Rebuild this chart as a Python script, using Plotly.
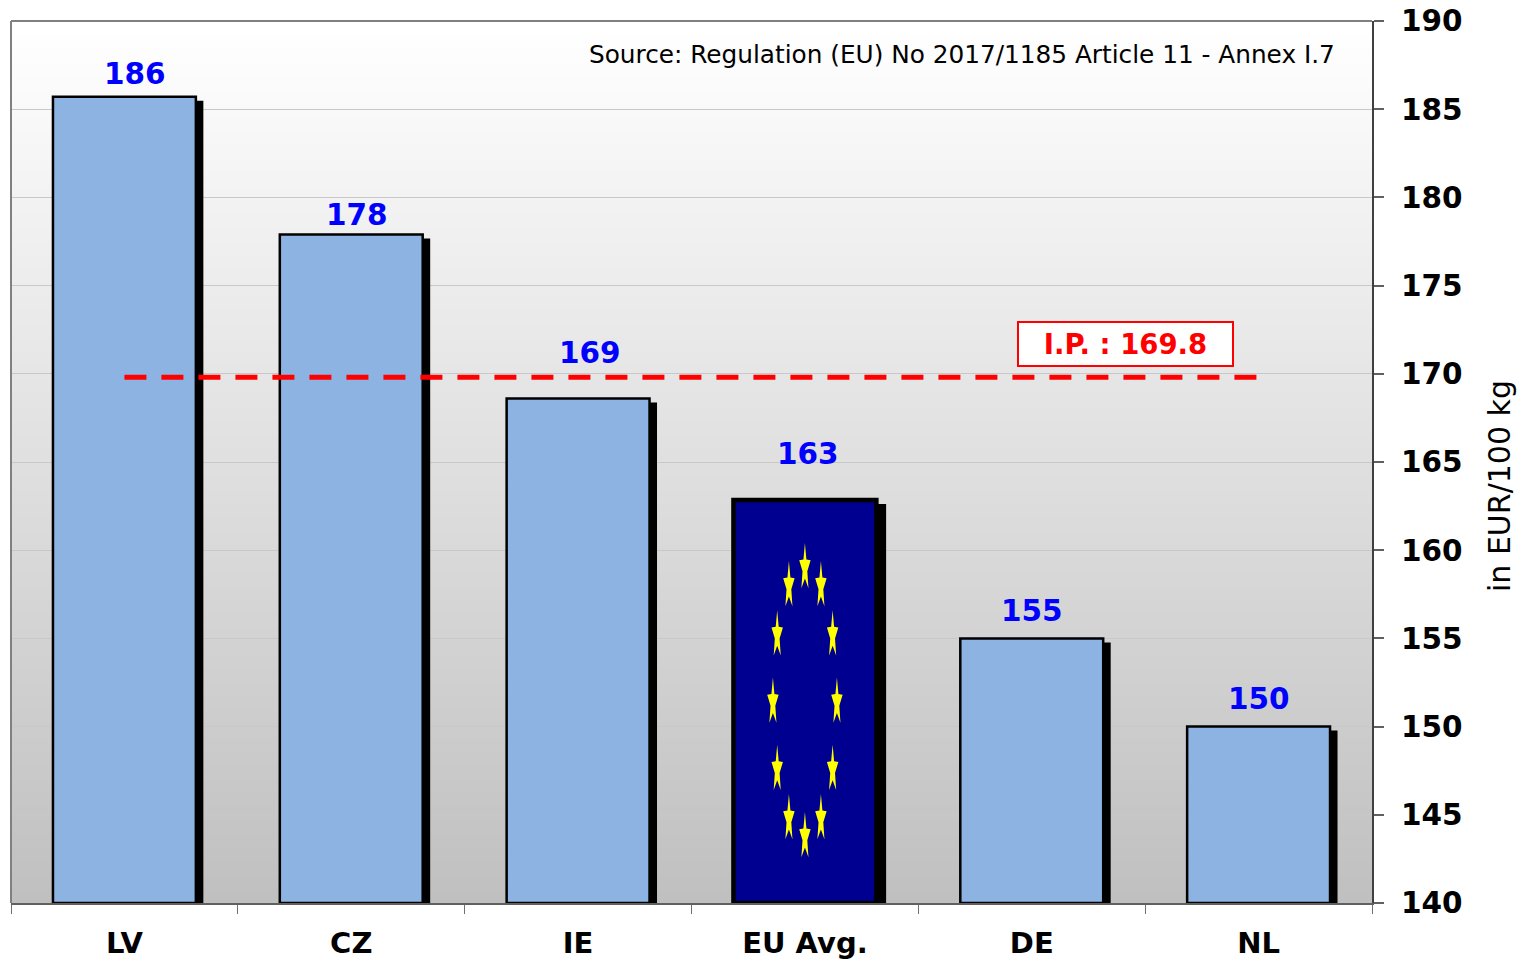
import math
import plotly.graph_objects as go

categories = ["LV", "CZ", "IE", "EU Avg.", "DE", "NL"]
values = [185.7, 177.9, 168.6, 162.85, 155.0, 150.0]
value_labels = ["186", "178", "169", "163", "155", "150"]
intervention_price = 169.8
y_ticks = [140, 145, 150, 155, 160, 165, 170, 175, 180, 185, 190]

FONT = "DejaVu Sans"
W, H = 1525, 959
L, R, T, B = 11, 1372, 21, 903
PW, PH = R - L, B - T
PX_X = PW / 6
PX_Y = PH / 50
BASE = 140
xs = list(range(len(categories)))
EU = categories.index("EU Avg.")

fig = go.Figure()

# drop shadow
fig.add_bar(x=xs, y=[v - BASE - 4 / PX_Y for v in values], base=BASE,
            offset=-0.288, width=[0.646 if i == EU else 0.636 for i in xs],
            marker=dict(color="black", line_width=0),
            cliponaxis=False, hoverinfo="skip", showlegend=False)
# bars
fig.add_bar(x=xs, y=[v - BASE for v in values], base=BASE, offset=-0.315, width=0.63,
            marker=dict(color=["#000090" if i == EU else "#8DB3E2" for i in xs],
                        line=dict(color="black", width=[4.5 if i == EU else 2.5 for i in xs])),
            cliponaxis=False, showlegend=False)

# EU flag stars
sx, sy = [], []
cy = 190 - (702.5 - T) / PX_Y
for k in range(12):
    a = math.radians(30 * k)
    cx0 = EU + 32 / PX_X * math.sin(a)
    cy0 = cy + 134.5 / PX_Y * math.cos(a)
    for j in range(11):
        t = math.radians(36 * j)
        r = 1.0 if j % 2 == 0 else 0.42
        sx.append(cx0 + r * 6.0 / PX_X * math.sin(t))
        sy.append(cy0 + r * 25 / PX_Y * math.cos(t))
    sx.append(None)
    sy.append(None)
fig.add_scatter(x=sx, y=sy, mode="lines", fill="toself", fillcolor="#FFFF00",
                line=dict(width=0, color="#FFFF00"), hoverinfo="skip", showlegend=False)

# intervention price line
fig.add_scatter(x=[xs[0], xs[-1]], y=[intervention_price] * 2, mode="lines",
                line=dict(color="#FF0000", width=5, dash="22px,15px"), showlegend=False)

# gradient background strips (each runs to the bottom, so no seams) + frame
shapes = []
N = 64
for i in range(N):
    g = round(255 - 63 * i / (N - 1))
    shapes.append(dict(type="rect", xref="paper", yref="paper", x0=0, x1=1,
                       y0=1 - i / N, y1=0, layer="below",
                       fillcolor=f"rgb({g},{g},{g})", line_width=0))
shapes.append(dict(type="line", xref="paper", yref="paper", x0=0, x1=1, y0=1, y1=1,
                   line=dict(color="#808080", width=2)))
shapes.append(dict(type="line", xref="paper", yref="paper", x0=0, x1=0, y0=0, y1=1,
                   line=dict(color="#808080", width=2)))

# value labels
xshift = [10.5, 6, 12, 3, 0, 0]
yshift = [23, 19, 46, 46, 27, 28]
ann = []
for i, t in enumerate(value_labels):
    ann.append(dict(x=xs[i], y=values[i], text=t, showarrow=False, xanchor="center",
                    yanchor="middle", xshift=xshift[i], yshift=yshift[i],
                    font=dict(family=FONT, size=29.5, color="#0000FF", weight="bold")))
ann.append(dict(xref="paper", yref="paper", x=(1337 - L) / PW, y=1 - (54 - T) / PH,
                text="Source: Regulation (EU) No 2017/1185 Article 11 - Annex I.7",
                showarrow=False, xanchor="right", yanchor="middle",
                font=dict(family=FONT, size=24.75, color="#000000")))
ann.append(dict(xref="paper", yref="paper", x=(1125.5 - L) / PW, y=1 - (344 - T) / PH,
                text=f"I.P. : {intervention_price}", showarrow=False, xanchor="center",
                yanchor="middle", bgcolor="#FFFFFF", bordercolor="#FF0000", borderwidth=2,
                width=211, height=40,
                font=dict(family=FONT, size=27.5, color="#FF0000", weight="bold")))
ann.append(dict(xref="paper", yref="paper", x=(1499 - L) / PW, y=1 - (486 - T) / PH,
                text="in EUR/100 kg", textangle=-90, showarrow=False, xanchor="center",
                yanchor="middle", font=dict(family=FONT, size=30, color="#000000")))

fig.update_layout(
    width=W, height=H, autosize=False, showlegend=False, barmode="overlay",
    margin=dict(l=L, r=W - R, t=T, b=H - B, pad=0),
    paper_bgcolor="white", plot_bgcolor="rgba(0,0,0,0)",
    shapes=shapes, annotations=ann,
    xaxis=dict(range=[-0.5, 5.5], tickmode="array", tickvals=xs, ticktext=categories,
               automargin=False,
               ticks="", showgrid=False, zeroline=False, showline=True,
               linecolor="#606060", linewidth=2, ticklabelstandoff=13,
               tickfont=dict(family=FONT, size=29, color="black", weight="bold"),
               minor=dict(tickmode="array", tickvals=[x - 0.5 for x in range(7)],
                          ticks="outside", ticklen=9, tickcolor="#707070", tickwidth=1,
                          showgrid=False)),
    yaxis=dict(range=[140, 190], side="right", tickmode="array", tickvals=y_ticks,
               automargin=False,
               ticks="outside", ticklen=10, tickcolor="#606060", tickwidth=2,
               showgrid=True, gridcolor="#C8C8C8", gridwidth=1, zeroline=False,
               showline=True, linecolor="#404040", linewidth=2, ticklabelstandoff=11,
               tickfont=dict(family=FONT, size=29.5, color="black", weight="bold")),
)
fig.write_html("out.html", post_script="document.body.style.margin='0';",
               config={"displayModeBar": False})
